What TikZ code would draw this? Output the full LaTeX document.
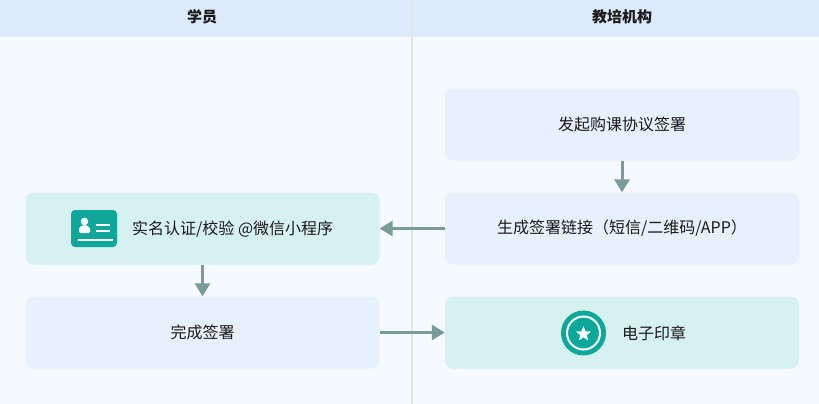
\documentclass[tikz,border=0pt]{standalone}
\usepackage{fontspec}
\setmainfont{Noto Sans CJK SC}
\usetikzlibrary{arrows.meta,shapes.geometric}
\definecolor{headbg}{HTML}{DCEAFB}
\definecolor{pagebg}{HTML}{F5FAFF}
\definecolor{bluebox}{HTML}{E6F1FD}
\definecolor{tealbox}{HTML}{D6F1EF}
\definecolor{tealicon}{HTML}{0DA899}
\definecolor{flowline}{HTML}{7A9B97}
\definecolor{divline}{HTML}{E0E6EB}
\definecolor{txt}{HTML}{1A1A1A}

\begin{document}
\begin{tikzpicture}
  [x=1pt,y=-1pt,
   every node/.style={text=txt,font=\fontsize{16}{18}\selectfont},
   card/.style={rectangle,rounded corners=8pt,minimum width=354pt,minimum height=72pt,inner sep=0pt},
   flow/.style={draw=flowline,line width=3pt,-{Triangle[length=13pt,width=15pt]}}]
  \useasboundingbox (0,0) rectangle (819,404);
  \fill[pagebg] (0,0) rectangle (819,404);
  \fill[headbg] (0,0) rectangle (819,37);
  \draw[divline,line width=1.5pt] (412,0) -- (412,404);
  \node[font=\fontsize{15}{17}\selectfont\bfseries] (hstu) at (202,17) {学员};
  \node[font=\fontsize{15}{17}\selectfont\bfseries] (horg) at (622,17) {教培机构};
  % cards
  \node[card,fill=bluebox] (start) at (622,124.5) {发起购课协议签署};
  \node[card,fill=bluebox] (link) at (622,228.5) {生成签署链接（短信/二维码/APP）};
  \node[card,fill=tealbox] (auth) at (202.5,228.5) {};
  \node[card,fill=bluebox] (done) at (202.5,332.5) {完成签署};
  \node[card,fill=tealbox] (seal) at (622,332.5) {};
  \node[anchor=west,inner sep=0pt] (authtxt) at (132,229) {实名认证/校验 @微信小程序};
  \node[anchor=west,inner sep=0pt] (sealtxt) at (622,333) {电子印章};
  % id card icon
  \fill[tealicon,rounded corners=4pt] (71,210) rectangle (117,247);
  \fill[white] (84.5,221.5) circle (3.8);
  \fill[white,rounded corners=1.5pt] (79,233) -- (79,230.5) arc (180:360:5.5) -- (90,233) -- cycle;
  \foreach \ly in {224.5,230.5}
    \draw[white,line width=2pt] (96,\ly) -- (110,\ly);
  \draw[white,line width=2pt] (77.5,239.5) -- (112.5,239.5);
  % seal icon
  \fill[tealicon] (583.5,333) circle (22.5);
  \draw[white,line width=2pt] (583.5,333) circle (16.5);
  \node[star,star points=5,star point ratio=2.4,fill=white,minimum size=16pt,inner sep=0pt] (sealstar) at (583.5,334) {};
  % connectors
  \foreach \from/\to in {start/link,link/auth,auth/done,done/seal}
    \draw[flow] (\from) -- (\to);
\end{tikzpicture}
\end{document}
